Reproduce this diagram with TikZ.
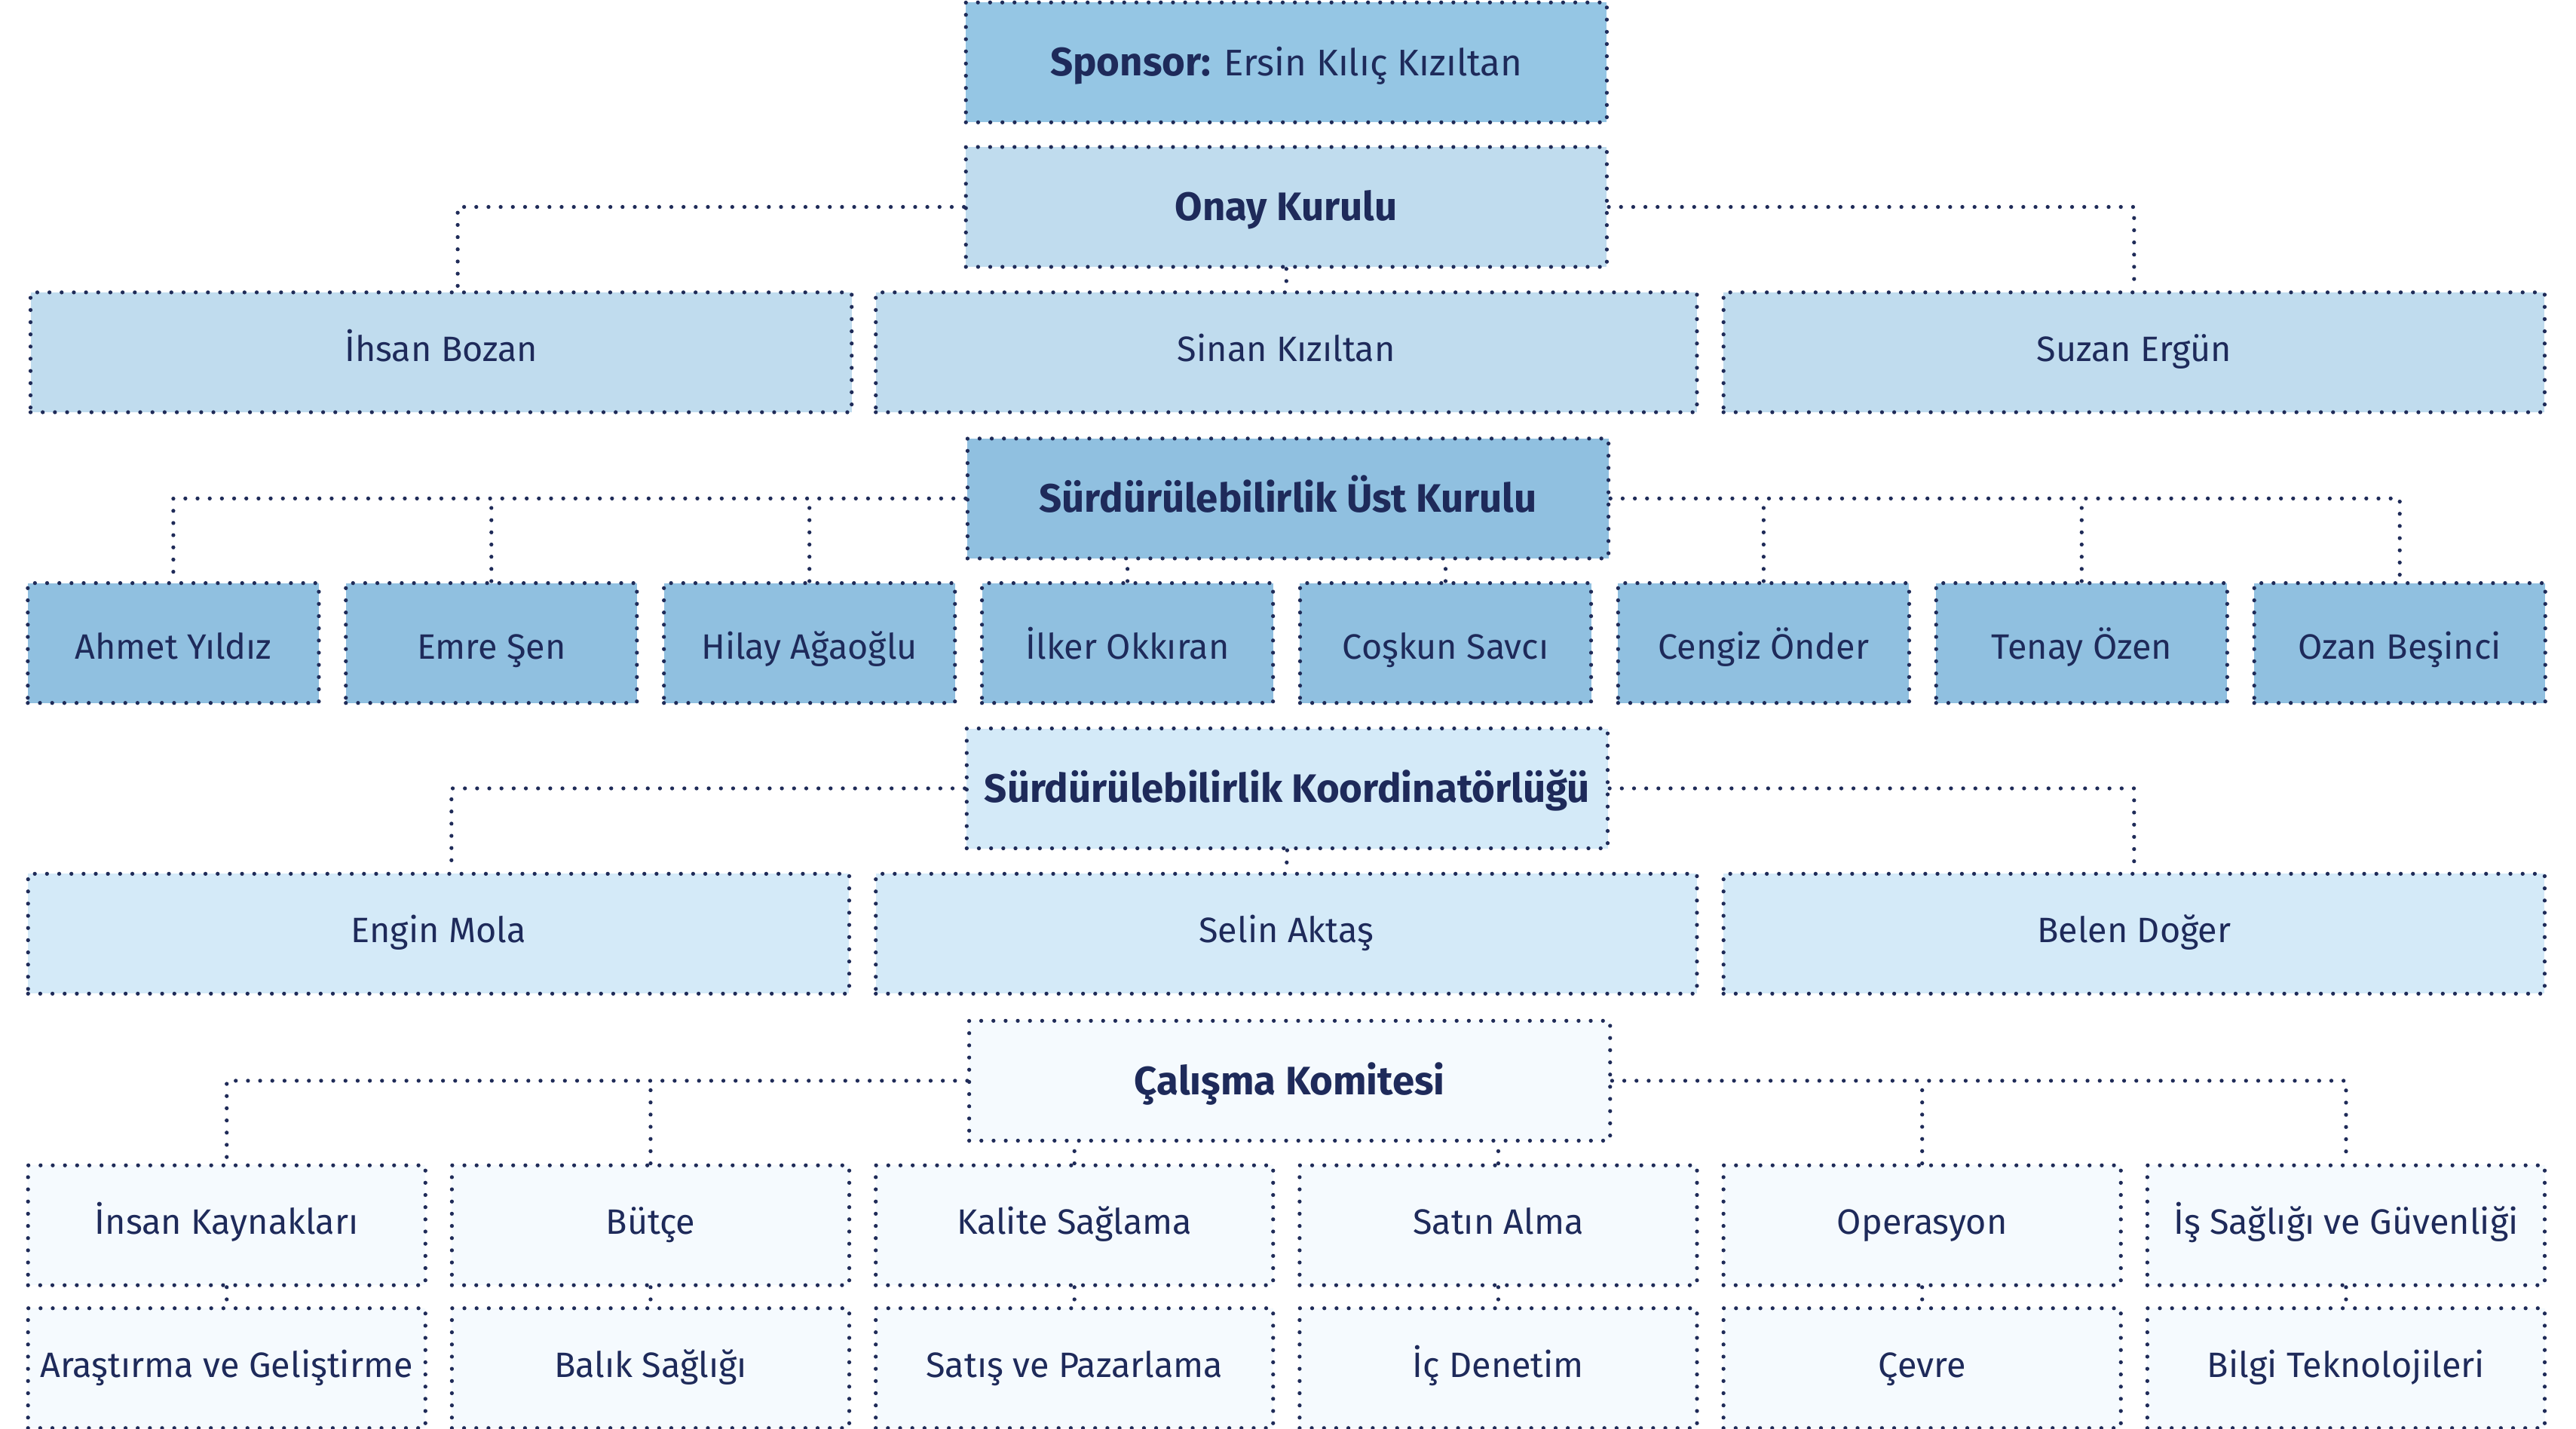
\documentclass[tikz,border=0pt]{standalone}
\usepackage{fontspec}
\setmainfont{Fira Sans}
\usetikzlibrary{calc}
\definecolor{ink}{HTML}{1E2A5A}
\definecolor{dotc}{HTML}{1F2B58}
\definecolor{blueA}{HTML}{95C6E4}
\definecolor{blueB}{HTML}{90C0E0}
\definecolor{blueC}{HTML}{C0DCEE}
\definecolor{blueD}{HTML}{D4EAF8}
\definecolor{blueE}{HTML}{F5FAFE}
\begin{document}
\begin{tikzpicture}[x=0.21788mm,y=-0.21788mm,
        dots/.style={draw=dotc,line width=1.5pt,line cap=round,dash pattern=on 0pt off 4.6pt},
        box/.style={dots,rectangle,inner sep=0pt,minimum height=15.9mm,text=ink,
            font=\fontsize{13.3}{16}\selectfont,text height=9.2pt,text depth=2.4pt},
        headbox/.style={box,minimum width=85mm,font=\fontsize{15}{18}\selectfont\bfseries,
            text height=10.3pt,text depth=0pt},
        widebox/.style={box,minimum width=108.9mm},
        memberbox/.style={box,minimum width=38.6mm,fill=blueB,text height=12pt,text depth=0pt},
        deptbox/.style={box,minimum width=52.7mm,fill=blueE}]
        \useasboundingbox[fill=white](0,0)rectangle(1568,870);
        \node[headbox,fill=blueA](sponsor)at(783,38){Sponsor: \fontsize{14}{18}\selectfont\mdseries Ersin Kılıç Kızıltan};
        \node[headbox,fill=blueC](onay)at(783,126){Onay Kurulu};
        \node[widebox,fill=blueC](ihsan)at(268.5,214.5){İhsan Bozan};
        \node[widebox,fill=blueC](sinan)at(783,214.5){Sinan Kızıltan};
        \node[widebox,fill=blueC](suzan)at(1299,214.5){Suzan Ergün};
        \node[headbox,fill=blueB](ust)at(784,303.5){Sürdürülebilirlik Üst Kurulu};
        \node[memberbox](ahmet)at(105.5,391.5){Ahmet Yıldız};
        \node[memberbox](emre)at(299.1,391.5){Emre Şen};
        \node[memberbox](hilay)at(492.7,391.5){Hilay Ağaoğlu};
        \node[memberbox](ilker)at(686.3,391.5){İlker Okkıran};
        \node[memberbox](coskun)at(879.9,391.5){Coşkun Savcı};
        \node[memberbox](cengiz)at(1073.5,391.5){Cengiz Önder};
        \node[memberbox](tenay)at(1267.1,391.5){Tenay Özen};
        \node[memberbox](ozan)at(1460.7,391.5){Ozan Beşinci};
        \node[headbox,fill=blueD](koord)at(783.5,480){Sürdürülebilirlik Koordinatörlüğü};
        \node[widebox,fill=blueD](engin)at(267,568.5){Engin Mola};
        \node[widebox,fill=blueD](selin)at(783,568.5){Selin Aktaş};
        \node[widebox,fill=blueD](belen)at(1299,568.5){Belen Doğer};
        \node[headbox,fill=blueE](calisma)at(785,658){Çalışma Komitesi};
        \node[deptbox](ik)at(138,746){İnsan Kaynakları};
        \node[deptbox](butce)at(396,746){Bütçe};
        \node[deptbox](kalite)at(654,746){Kalite Sağlama};
        \node[deptbox](satin)at(912,746){Satın Alma};
        \node[deptbox](operasyon)at(1170,746){Operasyon};
        \node[deptbox](isg)at(1428,746){İş Sağlığı ve Güvenliği};
        \node[deptbox](arge)at(138,833){Araştırma ve Geliştirme};
        \node[deptbox](balik)at(396,833){Balık Sağlığı};
        \node[deptbox](satis)at(654,833){Satış ve Pazarlama};
        \node[deptbox](denetim)at(912,833){İç Denetim};
        \node[deptbox](cevre)at(1170,833){Çevre};
        \node[deptbox](bilgi)at(1428,833){Bilgi Teknolojileri};
        \draw[dots](onay.west)-|([xshift=2.2mm]ihsan.north);
        \draw[dots](onay.east)-|(suzan.north);
        \draw[dots](onay.south)--(sinan.north);
        \draw[dots](ust.west)-|(ahmet.north);
        \draw[dots](emre.north)--(emre.north|-ust.west);
        \draw[dots](hilay.north)--(hilay.north|-ust.west);
        \draw[dots](ilker.north)--(ilker.north|-ust.south);
        \draw[dots](coskun.north)--(coskun.north|-ust.south);
        \draw[dots](ust.east)-|(ozan.north);
        \draw[dots](cengiz.north)--(cengiz.north|-ust.east);
        \draw[dots](tenay.north)--(tenay.north|-ust.east);
        \draw[dots](koord.west)-|([xshift=1.7mm]engin.north);
        \draw[dots](koord.east)-|(belen.north);
        \draw[dots](koord.south)--(selin.north);
        \draw[dots](calisma.west)-|(ik.north);
        \draw[dots](butce.north)--(butce.north|-calisma.west);
        \draw[dots](kalite.north)--(kalite.north|-calisma.south);
        \draw[dots](satin.north)--(satin.north|-calisma.south);
        \draw[dots](calisma.east)-|(isg.north);
        \draw[dots](operasyon.north)--(operasyon.north|-calisma.east);
        \draw[dots](ik.south)--(arge.north);
        \draw[dots](butce.south)--(balik.north);
        \draw[dots](kalite.south)--(satis.north);
        \draw[dots](satin.south)--(denetim.north);
        \draw[dots](operasyon.south)--(cevre.north);
        \draw[dots](isg.south)--(bilgi.north);
    \end{tikzpicture}
\end{document}
